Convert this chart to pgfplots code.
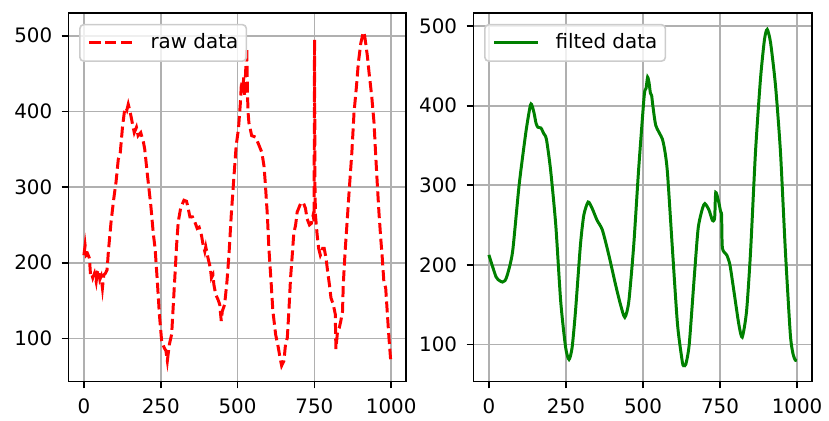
\documentclass[border=0pt]{standalone}
\usepackage{fontspec}
\setmainfont{DejaVu Sans}
\usepackage{pgfplots}
\pgfplotsset{compat=1.18}
\definecolor{mplred}{HTML}{FF0000}
\definecolor{mplgreen}{HTML}{008000}
\definecolor{gridgray}{HTML}{B0B0B0}
\definecolor{legframe}{HTML}{CCCCCC}
\pgfplotsset{
  mpl/.style={
    scale only axis, anchor=south west,
    width=170pt, height=185.5pt,
    xmin=-49.95, xmax=1048.95,
    xtick={0,250,500,750,1000},
    ytick={100,200,300,400,500},
    grid=major,
    grid style={color=gridgray, line width=0.8pt},
    axis line style={line width=0.8pt},
    tick style={line width=0.8pt, color=black},
    tick align=outside, major tick length=3.5pt,
    tick pos=left,
    /pgf/number format/assume math mode=true,
    /pgf/number format/1000 sep={},
    ticklabel style={font=\fontsize{10}{12}\selectfont},
    xticklabel style={yshift=-1.7pt},
    yticklabel style={xshift=-1.2pt},
    legend cell align=left,
    legend style={at={(0,1)}, anchor=north west, xshift=5.3pt, yshift=-5.5pt,
      draw=legframe, line width=0.8pt, rounded corners=2pt, fill=white, fill opacity=0.8, text opacity=1,
      font=\fontsize{10}{12}\selectfont, inner xsep=4.1pt, inner ysep=4.2pt,
      nodes={inner sep=0pt, text height=7.6pt, text depth=2.4pt}},
    legend image code/.code={\draw[#1] (0pt,0pt) -- (21.7pt,0pt); \path (30pt,0pt);},
  }
}
\begin{document}
\begin{tikzpicture}
\path (0,0) rectangle (414.5pt,209.5pt);
\begin{axis}[mpl, at={(34.5pt,17.5pt)}, ymin=43.2, ymax=530.2]
\addplot[mplred, line width=1.5pt, dash pattern=on 5.55pt off 2.4pt] coordinates {
(0,210) (4,223) (7.5,210) (12,212) (18,206) (21.6,184) (25,186) (29,180) (34.5,186) (40,175)
(44,188) (47.4,190.7) (52,178) (56,182) (60.4,166.7) (64.7,184) (70,186) (75.5,190.7) (79.7,214.8)
(88.4,254) (97,284) (104.6,306.7) (112,337) (118.5,346) (126,381) (131.5,398.5) (136.8,405)
(140,402) (144.4,409.4) (151,398.5) (158.4,383) (164,372) (171,379) (176.5,368) (185,372)
(194,359) (198,350) (207,315) (217.7,276) (226,238) (231.7,219) (239,175.5) (245.7,131.6)
(253,96.7) (261,88) (267,83.6) (271.6,70.5) (278,92) (285.6,105.4) (291,144.8) (296.4,184)
(301.7,223.5) (307,254) (314.6,271.6) (325.6,282.6) (334,281.3) (339.5,271.6) (345,260.7)
(353.4,260.7) (361,254) (368.6,245.4) (375,247) (382.5,236.6) (388,223.5) (393.5,214.8)
(396.6,221) (404,206) (411.6,193) (415,180) (420,184) (423,171) (429,158) (436.5,151.3)
(442,144.8) (447,123) (450.4,136) (458,144.8) (465.6,175.5) (472,210) (479.5,262.9) (487,306.7)
(495.6,355) (503,377) (509,410) (513,440) (517,425) (520,445) (523,420) (526,450) (530,484)
(532,430) (534,400) (537,385) (546,368) (559,366) (568,357) (579,346) (586,328) (590,307)
(597,263) (602,219) (609,175.5) (615,136) (624,105) (632.6,88) (638,75) (643.4,64) (651,70.5)
(656,92) (662,101) (667,136) (672.5,180) (678,210) (683,239) (689,250) (694,267) (705,278)
(713.5,280) (721,272) (726,258.5) (734,250) (740,252) (746,263) (749,255) (750.5,495) (752,300)
(753.5,263) (759,237) (764,219) (769.5,210) (775,215) (777,219) (782,219) (788,206) (793,189)
(799,171) (804,153.5) (811.5,145) (818,132) (820,86) (825.5,110) (831,114) (836,123) (841.6,136)
(844,171) (850,215) (858,263) (863,294) (872,346) (879,398.5) (887,433.5) (893,464) (901,490)
(908.5,503.5) (911,505) (914,499) (917,490) (922.5,473) (928,451) (936.6,420) (944,385.5)
(949.6,341.6) (955,302) (960,267) (966,232) (971,206) (976,175.5) (982,166.7) (987,136)
(992.6,101) (998,72.6)
};
\addlegendentry{raw data}
\end{axis}
\begin{axis}[mpl, at={(238.35pt,17.5pt)}, width=170.5pt, ymin=53.4, ymax=516.75]
\addplot[mplgreen, line width=1.5pt, smooth, tension=0.4] coordinates {
(0,212.5) (23,185) (35,180) (44,178.4) (52,180) (60,187.5) (77,216.8) (98,300) (120,366.7)
(134.8,401) (141,399) (147,390) (153,378) (159,373) (169,372) (178,365) (186.6,358) (200,320)
(217,250) (233,154) (249,96) (260,81) (270,96) (281,141.7) (297,225) (308,262.5) (322,279)
(335,271) (351,256) (368,244) (389,212.5) (411,175) (427,150) (441,134) (454,154) (470,225)
(486,321) (502,404) (506,419) (510,422) (515,436) (520,428) (524,416) (528,413) (532,400)
(541.7,375) (563,358) (573,338) (580,312.5) (596,216.7) (612,125) (628,77) (633,74) (639,75)
(650,100) (666,183) (679,246) (693,271) (701,277) (714,269) (725,256) (730.5,256) (733,262)
(736,291) (745,280) (752,266.7) (755,262.5) (757.6,221) (771.5,212.5) (782,200) (795,166.7)
(811,125) (822,109) (836,141.7) (849,216.7) (865,342) (881,433) (894,483) (903,496) (914,479)
(930,425) (946,342) (962,217) (978,112.5) (987,87.5) (994.5,80) (999,79.6)
};
\addlegendentry{filted data}
\end{axis}
\end{tikzpicture}
\end{document}
